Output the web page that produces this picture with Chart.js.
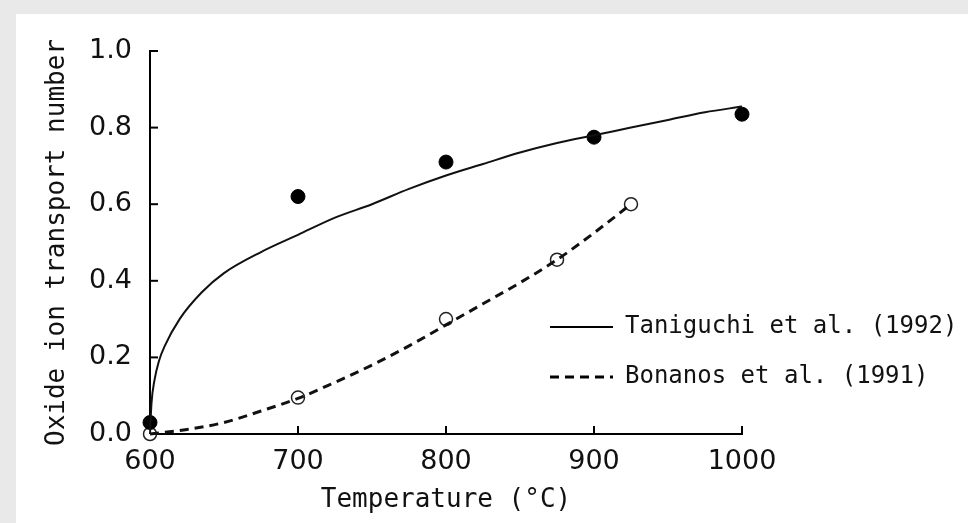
<!DOCTYPE html>
<html>
<head>
<meta charset="utf-8">
<title>Oxide ion transport number</title>
<script src="https://cdn.jsdelivr.net/npm/chart.js@4.4.1/dist/chart.umd.min.js"></script>
<style>
  html, body { margin: 0; padding: 0; background: #e9e9e9; }
  #wrap { position: absolute; left: 16px; top: 14px; width: 952px; height: 509px; background: #fff; }
</style>
</head>
<body>
<div id="wrap"><canvas id="chart" width="952" height="509"></canvas></div>
<script>
// tick labels
const xTicks = [600, 700, 800, 900, 1000];
const yTicks = [0, 0.2, 0.4, 0.6, 0.8, 1.0];

// Taniguchi et al. (1992) - measured points and fitted curve
const tanigT = [600, 700, 800, 900, 1000];
const tanigVal = [0.03, 0.62, 0.71, 0.775, 0.835];
const tanigCurveT = [600, 601, 603, 606, 610, 620, 635, 650, 675, 700, 725, 750, 775, 800, 825, 850, 875, 900, 925, 950, 975, 1000];
const tanigCurveVal = [0.0, 0.08, 0.14, 0.19, 0.23, 0.30, 0.37, 0.42, 0.475, 0.52, 0.565, 0.60, 0.64, 0.675, 0.705, 0.735, 0.76, 0.78, 0.80, 0.82, 0.84, 0.855];

// Bonanos et al. (1991)
const bonT = [600, 700, 800, 875, 925];
const bonVal = [0.0, 0.095, 0.30, 0.455, 0.60];
const bonCurveT = [600, 625, 650, 675, 700, 725, 750, 775, 800, 825, 850, 875, 900, 925];
const bonCurveVal = [0.0, 0.012, 0.03, 0.06, 0.093, 0.135, 0.18, 0.23, 0.285, 0.34, 0.395, 0.455, 0.525, 0.60];

const toXY = (xs, ys) => xs.map((x, i) => ({ x: x, y: ys[i] }));

const monoFont = "'DejaVu Sans Mono', 'Liberation Mono', monospace";
const sansFont = "'DejaVu Sans', sans-serif";

// ticks drawn inward + legend inside plot
const extras = {
  id: 'extras',
  afterDraw(chart) {
    const ctx = chart.ctx;
    const xs = chart.scales.x, ys = chart.scales.y;
    ctx.save();
    ctx.strokeStyle = '#000';
    ctx.lineWidth = 2;
    xTicks.slice(1).forEach(v => {
      const px = xs.getPixelForValue(v);
      ctx.beginPath(); ctx.moveTo(px, ys.bottom); ctx.lineTo(px, ys.bottom - 8); ctx.stroke();
    });
    yTicks.slice(1).forEach(v => {
      const py = ys.getPixelForValue(v);
      ctx.beginPath(); ctx.moveTo(xs.left, py); ctx.lineTo(xs.left + 8, py); ctx.stroke();
    });

    // legend
    const items = chart.data.datasets.filter(d => d.inLegend);
    ctx.font = '24px ' + monoFont;
    ctx.textBaseline = 'middle';
    ctx.fillStyle = '#111';
    items.forEach((d, i) => {
      const y = 313 + i * 50;
      ctx.lineWidth = d.borderWidth;
      ctx.setLineDash(d.borderDash || []);
      ctx.beginPath(); ctx.moveTo(534, y); ctx.lineTo(597, y); ctx.stroke();
      ctx.setLineDash([]);
      ctx.fillText(d.label, 609, y);
    });
    ctx.restore();
  }
};

new Chart(document.getElementById('chart'), {
  type: 'scatter',
  data: {
    datasets: [
      {
        label: 'Taniguchi et al. (1992)',
        inLegend: true,
        type: 'line',
        data: toXY(tanigCurveT, tanigCurveVal),
        borderColor: '#111',
        borderWidth: 2,
        pointRadius: 0,
        cubicInterpolationMode: 'monotone',
        fill: false
      },
      {
        label: 'Bonanos et al. (1991)',
        inLegend: true,
        type: 'line',
        data: toXY(bonCurveT, bonCurveVal),
        borderColor: '#111',
        borderWidth: 3,
        borderDash: [9, 6],
        pointRadius: 0,
        cubicInterpolationMode: 'monotone',
        fill: false
      },
      {
        label: 'Taniguchi data',
        data: toXY(tanigT, tanigVal),
        pointRadius: 7,
        pointBackgroundColor: '#000',
        pointBorderColor: '#000',
        pointBorderWidth: 1
      },
      {
        label: 'Bonanos data',
        data: toXY(bonT, bonVal),
        pointRadius: 6.5,
        pointBackgroundColor: '#fff',
        pointBorderColor: '#222',
        pointBorderWidth: 1.5
      }
    ]
  },
  options: {
    responsive: false,
    animation: false,
    clip: false,
    layout: { padding: { left: 0, right: 226, top: 37, bottom: 0 } },
    plugins: { legend: { display: false }, tooltip: { enabled: false } },
    scales: {
      x: {
        type: 'linear',
        min: 600, max: 1000,
        afterBuildTicks: s => { s.ticks = xTicks.map(v => ({ value: v })); },
        afterFit: s => { s.height = 89; },
        grid: { display: true, drawOnChartArea: false, drawTicks: false },
        border: { display: true, color: '#000', width: 2 },
        ticks: { color: '#111', font: { family: sansFont, size: 27 }, padding: 12, maxRotation: 0, callback: v => String(v) },
        title: { display: true, text: 'Temperature (°C)', color: '#111', font: { family: monoFont, size: 26 }, padding: { top: 0, bottom: 7 } }
      },
      y: {
        type: 'linear',
        min: 0, max: 1,
        afterBuildTicks: s => { s.ticks = yTicks.map(v => ({ value: v })); },
        afterFit: s => { s.width = 134; },
        grid: { display: true, drawOnChartArea: false, drawTicks: false },
        border: { display: true, color: '#000', width: 2 },
        ticks: { color: '#111', font: { family: sansFont, size: 27 }, padding: 18, callback: v => v.toFixed(1) },
        title: { display: true, text: 'Oxide ion transport number', color: '#111', font: { family: monoFont, size: 26 }, padding: { top: 26, bottom: 0 } }
      }
    }
  },
  plugins: [extras]
});
</script>
</body>
</html>
